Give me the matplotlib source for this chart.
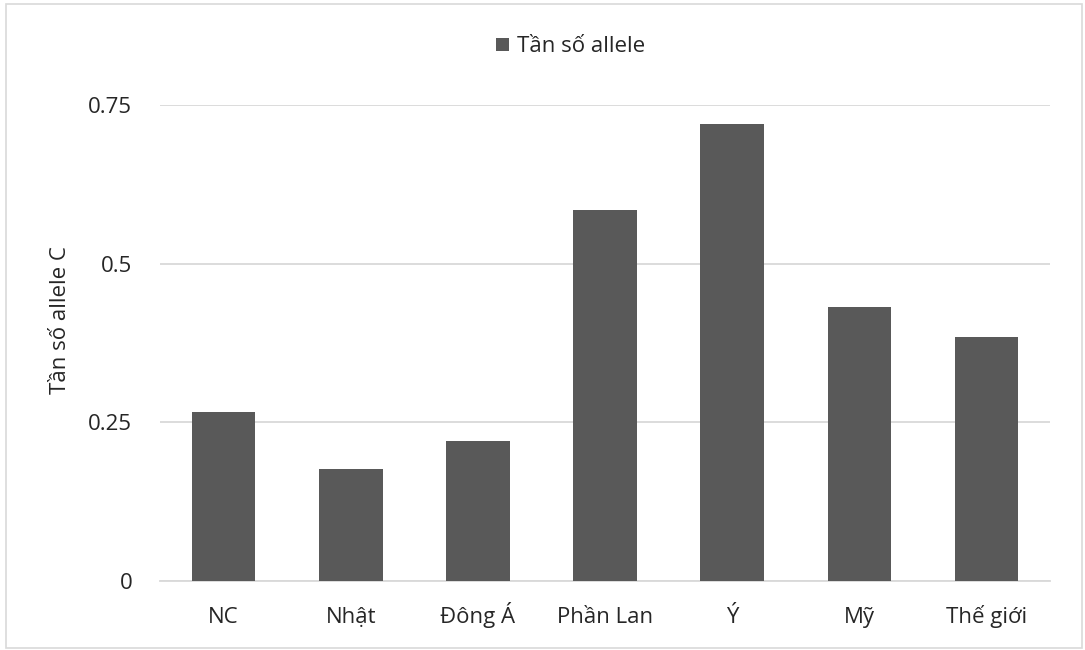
import matplotlib
matplotlib.use("Agg")
import matplotlib.pyplot as plt
from matplotlib.patches import Rectangle

plt.rcParams['font.family'] = ['Open Sans', 'DejaVu Sans']

categories = ["NC", "Nhật", "Đông Á", "Phần Lan", "Ý", "Mỹ", "Thế giới"]
allele_freq = [0.266, 0.177, 0.221, 0.585, 0.720, 0.431, 0.385]
y_ticks = [0, 0.25, 0.5, 0.75]
y_tick_labels = ["0", "0.25", "0.5", "0.75"]
series_name = "Tần số allele"
y_title = "Tần số allele C"

bar_color = "#595959"
grid_color = "#d9d9d9"
text_color = "#262626"
fs = 16

W, H = 1085, 650
fig = plt.figure(figsize=(W / 100, H / 100), dpi=100)
fig.patch.set_facecolor("white")
# outer chart frame
fig.patches.append(Rectangle((6 / W, 2 / H), 1076 / W, 644 / H,
                             transform=fig.transFigure, fill=False,
                             edgecolor="#d9d9d9", linewidth=1.2))

ax = fig.add_axes([160 / W, 1 - 581 / H, 890 / W, 476 / H])
x = range(len(categories))
ax.bar(x, allele_freq, width=0.5, color=bar_color, label=series_name, zorder=3)

ax.set_xlim(-0.5, len(categories) - 0.5)
ax.set_ylim(0, 0.75)
ax.set_yticks(y_ticks)
ax.set_yticklabels(y_tick_labels)
ax.set_xticks(list(x))
ax.set_xticklabels(categories, va="baseline")

ax.yaxis.grid(True, color=grid_color, linewidth=1.3, zorder=0)
ax.set_axisbelow(True)
for side in ["top", "right", "left"]:
    ax.spines[side].set_visible(False)
ax.spines["bottom"].set_color(grid_color)
ax.spines["bottom"].set_linewidth(1.3)
ax.spines["bottom"].set_zorder(2)
ax.tick_params(axis="both", length=0, labelsize=fs, colors=text_color)
ax.tick_params(axis="y", pad=20)
ax.tick_params(axis="x", pad=30.5)

# axis title
fig.text(60 / W, 1 - 320 / H, y_title, rotation=90, ha="center", va="center",
         fontsize=fs, color=text_color)

fig.legend(loc="center", bbox_to_anchor=(571 / W, 1 - 47 / H),
           frameon=False, fontsize=fs, handlelength=0.55, handleheight=0.55,
           handletextpad=0.4, labelcolor=text_color)

fig.savefig("out.png", dpi=100, facecolor="white")
